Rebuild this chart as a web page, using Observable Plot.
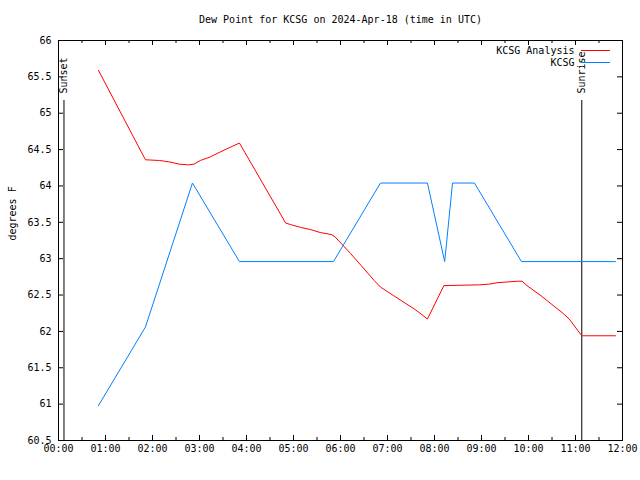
<!DOCTYPE html>
<html><head><meta charset="utf-8">
<script src="https://cdn.jsdelivr.net/npm/d3@7"></script>
<script src="https://cdn.jsdelivr.net/npm/@observablehq/plot@0.6"></script>
<style>body{margin:0;background:#fff}</style>
</head><body><div id="chart"></div>
<script>
const title = "Dew Point for KCSG on 2024-Apr-18 (time in UTC)";
const yLabel = "degrees F";
const seriesNames = ["KCSG Analysis", "KCSG"];
const seriesColors = ["#ff0000", "#0080ff"];

const analysisTimes = ["00:51","01:51","02:09","02:22","02:34","02:46","02:53","03:01","03:14","03:27","03:51",
  "04:50","04:56","05:09","05:22","05:34","05:49","05:53","06:13","06:26","06:43","06:51","07:08","07:21","07:34",
  "07:44","07:51","08:12","08:56","09:10","09:20","09:33","09:46","09:52","09:58","10:16","10:45","10:52","11:08","11:51"];
const analysisValues = [65.59,64.36,64.35,64.33,64.30,64.29,64.30,64.35,64.40,64.47,64.59,
  63.49,63.47,63.43,63.40,63.36,63.33,63.30,63.07,62.91,62.70,62.61,62.49,62.40,62.31,
  62.23,62.17,62.63,62.64,62.65,62.67,62.68,62.69,62.69,62.63,62.49,62.24,62.17,61.94,61.94];

const obsTimes = ["00:51","01:51","02:51","03:51","05:51","06:51","07:51","08:13","08:23","08:51","09:51","11:51"];
const obsValues = [60.98,62.06,64.04,62.96,62.96,64.04,64.04,62.96,64.04,64.04,62.96,62.96];

const xTickHours = [0,1,2,3,4,5,6,7,8,9,10,11,12];
const xTickLabels = ["00:00","01:00","02:00","03:00","04:00","05:00","06:00","07:00","08:00","09:00","10:00","11:00","12:00"];
const yTicks = [60.5,61,61.5,62,62.5,63,63.5,64,64.5,65,65.5,66];
const yTickLabels = ["60.5","61","61.5","62","62.5","63","63.5","64","64.5","65","65.5","66"];

const sunEvents = ["Sunset","Sunrise"];
const sunTimes = ["00:07","11:08"];

const toHours = s => { const [h, m] = s.split(":").map(Number); return h + m / 60; };
const rows = (times, values, series) => times.map((t, i) => ({t: toHours(t), v: values[i], series}));
const data = [...rows(analysisTimes, analysisValues, seriesNames[0]), ...rows(obsTimes, obsValues, seriesNames[1])];

const W = 640, H = 480, mL = 58, mR = 18, mT = 40, mB = 40;
const innerW = W - mL - mR, innerH = H - mT - mB;
const minorHours = d3.range(0.5, 12, 1);
const font = "DejaVu Sans Mono";

const legendMarks = seriesNames.flatMap((name, i) => [
  Plot.text([name], {frameAnchor: "top-right", lineAnchor: "middle", text: d => d, dx: -48, dy: 10 + 12 * i, textAnchor: "end", fill: "black"}),
  Plot.tickY([66], {y: d => d, dy: 10 + 12 * i, insetLeft: 523, insetRight: 12, stroke: seriesColors[i], strokeWidth: 1})
]);

const plot = Plot.plot({
  width: W, height: H,
  marginLeft: mL, marginRight: mR, marginTop: mT, marginBottom: mB,
  style: {fontFamily: font, fontSize: "10px", background: "#fff", color: "#000"},
  x: {type: "linear", domain: [0, 12]},
  y: {domain: [60.5, 66]},
  color: {domain: seriesNames, range: seriesColors},
  marks: [
    Plot.axisX({ticks: xTickHours, tickFormat: d => xTickLabels[xTickHours.indexOf(d)], tickSize: 0, tickPadding: 4, label: null}),
    Plot.axisY({ticks: yTicks, tickFormat: d => yTickLabels[yTicks.indexOf(d)], tickSize: 0, tickPadding: 7, label: null}),
    Plot.tickX(xTickHours, {x: d => d, insetTop: innerH - 5}),
    Plot.tickX(xTickHours, {x: d => d, insetBottom: innerH - 5}),
    Plot.tickX(minorHours, {x: d => d, insetTop: innerH - 3}),
    Plot.tickX(minorHours, {x: d => d, insetBottom: innerH - 3}),
    Plot.tickY(yTicks, {y: d => d, insetRight: innerW - 5}),
    Plot.tickY(yTicks, {y: d => d, insetLeft: innerW - 5}),
    Plot.ruleX(sunTimes.map(toHours), {x: d => d, insetTop: 60, stroke: "black"}),
    Plot.text(sunEvents, {x: (d, i) => toHours(sunTimes[i]), text: d => d, frameAnchor: "top", lineAnchor: "middle", rotate: -90, textAnchor: "start", dy: 53, fill: "black"}),
    Plot.line(data, {x: "t", y: "v", z: "series", stroke: "series", strokeWidth: 1}),
    ...legendMarks,
    Plot.text([title], {frameAnchor: "top", lineAnchor: "middle", text: d => d, dy: -21, fill: "black"}),
    Plot.text([yLabel], {frameAnchor: "left", lineAnchor: "middle", text: d => d, dx: -46, rotate: -90, fill: "black"}),
    Plot.frame({stroke: "black"})
  ]
});
document.getElementById("chart").appendChild(plot);
</script>
</body></html>
